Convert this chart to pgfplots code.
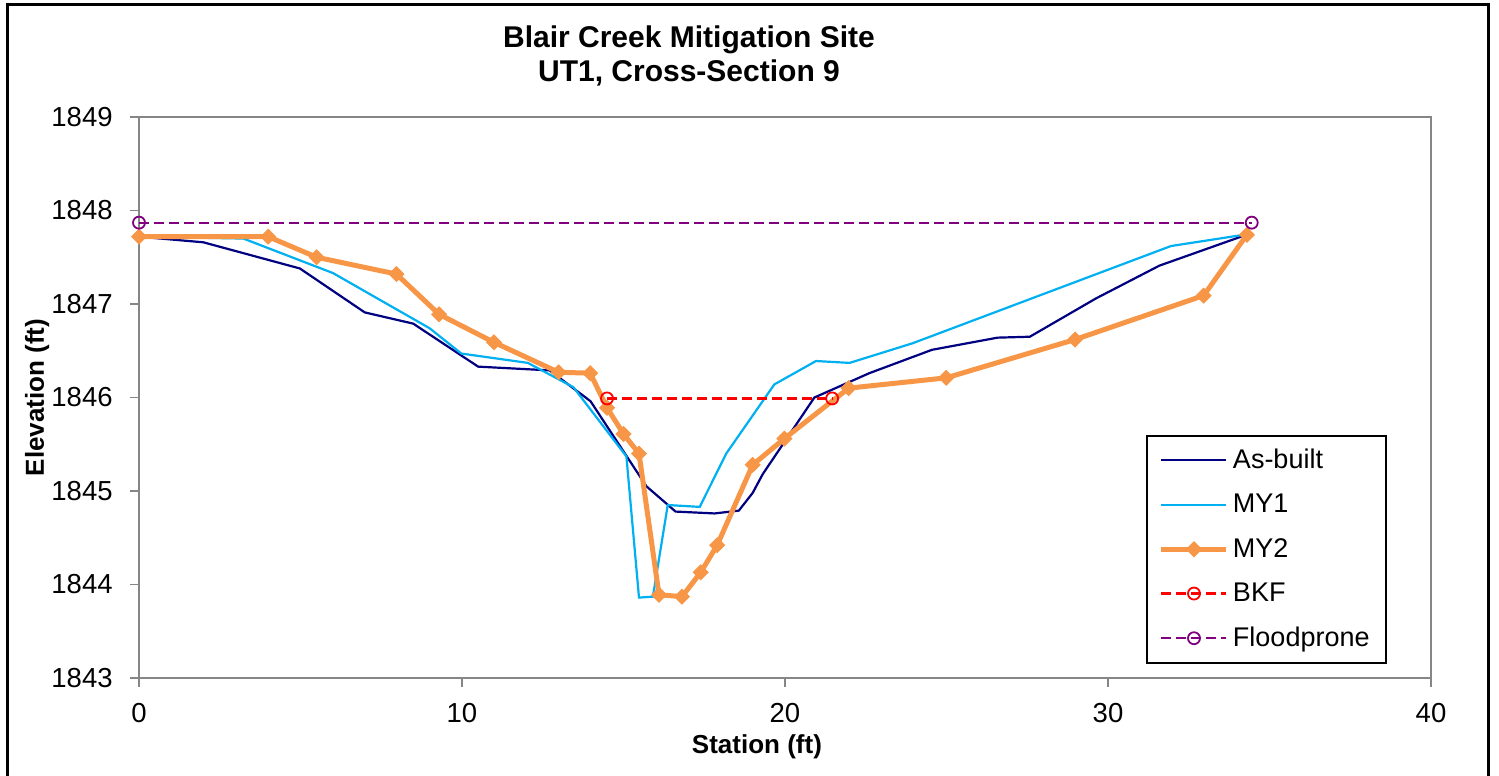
\documentclass[border=0pt]{standalone}
\usepackage{fontspec}
\setmainfont{Liberation Sans}
\usepackage{pgfplots}
\pgfplotsset{compat=1.18}
\definecolor{asbuilt}{HTML}{000080}
\definecolor{myone}{HTML}{00B0F0}
\definecolor{mytwo}{HTML}{F79646}
\definecolor{bkf}{HTML}{FF0000}
\definecolor{fp}{HTML}{800080}
\definecolor{axgray}{HTML}{868686}
\begin{document}
\begin{tikzpicture}
\begin{axis}[
  scale only axis, width=646pt, height=280.5pt,
  xmin=0, xmax=40, ymin=1843, ymax=1849,
  xtick={0,10,20,30,40}, ytick={1843,1844,1845,1846,1847,1848,1849},
  clip=false,
  axis line style={draw=axgray, line width=0.7pt},
  tick style={draw=axgray, line width=0.7pt},
  tick align=outside, tick pos=left, major tick length=4.5pt,
  scaled ticks=false,
  /pgf/number format/1000 sep={},
  /pgf/number format/assume math mode=true,
  ticklabel style={font=\fontsize{13.75}{16}\selectfont},
  yticklabel style={anchor=east, inner sep=0pt, xshift=-8.5pt},
  xticklabel style={anchor=north, inner sep=0pt, yshift=-8pt},
  xlabel={\bfseries Station (ft)},
  ylabel={\bfseries Elevation (ft)},
  xlabel style={at={(axis description cs:0.4783,-0.123)}, anchor=center, font=\fontsize{13}{15}\selectfont},
  ylabel style={at={(axis description cs:-0.0789,0.5)}, anchor=center, font=\fontsize{13}{15}\selectfont},
  legend style={draw=black, line width=1pt, at={(0.7794,0.4332)}, anchor=north west,
    font=\fontsize{13.5}{16}\selectfont, inner xsep=6pt, inner ysep=4.5pt, row sep=7.3pt,
    cells={anchor=west}},
  legend cell align=left,
  legend image code/.code={\draw[mark repeat=2,mark phase=2] plot coordinates {(0pt,0pt) (16.25pt,0pt) (32.5pt,0pt)};},
]
\addplot[asbuilt, line width=1.1pt, mark=none] coordinates {
(0,1847.72) (1.99,1847.66) (4.98,1847.38) (6.99,1846.91) (8.49,1846.79) (10.50,1846.33) (12.71,1846.29) (13.98,1845.96) (15.71,1845.05) (16.38,1844.85) (16.61,1844.78) (17.82,1844.76) (18.57,1844.79) (19.0,1844.98) (19.31,1845.18) (20.91,1846.00) (22.61,1846.26) (24.55,1846.51) (26.58,1846.64) (27.58,1846.65) (29.63,1847.06) (31.59,1847.41) (34.2,1847.73)
};
\addlegendentry{As-built}
\addplot[myone, line width=1.1pt, mark=none] coordinates {
(0,1847.72) (3.23,1847.70) (6.01,1847.33) (9.0,1846.74) (9.98,1846.47) (12.04,1846.37) (13.45,1846.11) (15.09,1845.37) (15.48,1843.86) (15.91,1843.87) (16.37,1844.85) (17.36,1844.83) (18.18,1845.40) (19.67,1846.14) (20.96,1846.39) (22.0,1846.37) (23.95,1846.58) (31.95,1847.62) (34.2,1847.74)
};
\addlegendentry{MY1}
\addplot[mytwo, line width=2.5pt, mark=square*, mark size=2.6pt, mark options={rotate=45, line width=0.5pt}] coordinates {
(0,1847.72) (4.0,1847.72) (5.50,1847.50) (7.97,1847.32) (9.29,1846.89) (10.99,1846.59) (12.99,1846.27) (13.97,1846.26) (14.49,1845.89) (15.0,1845.61) (15.48,1845.40) (16.10,1843.89) (16.81,1843.87) (17.39,1844.13) (17.90,1844.42) (19.00,1845.28) (19.98,1845.56) (21.97,1846.10) (24.99,1846.21) (28.98,1846.62) (32.96,1847.09) (34.30,1847.74)
};
\addlegendentry{MY2}
\addplot[bkf, line width=1.1pt, dash pattern=on 5pt off 2.5pt, mark=o, mark size=3pt, mark options={solid, line width=0.9pt}] coordinates {
(14.49,1845.99) (21.46,1845.99)
};
\addlegendentry{BKF}
\addplot[fp, line width=1.1pt, dash pattern=on 5pt off 2.5pt, mark=o, mark size=3pt, mark options={solid, line width=0.9pt}] coordinates {
(0,1847.87) (34.45,1847.87)
};
\addlegendentry{Floodprone}
\node[anchor=base, font=\fontsize{15}{17}\bfseries] at (axis description cs:0.4257,1.1230) {Blair Creek Mitigation Site};
\node[anchor=base, font=\fontsize{15}{17}\bfseries] at (axis description cs:0.4257,1.0624) {UT1, Cross-Section 9};
\end{axis}
\draw[line width=1.5pt, black] (-65.5pt,-49pt) -- (-65.5pt,336.5pt) -- (674.5pt,336.5pt) -- (674.5pt,-49pt);
\pgfresetboundingbox
\useasboundingbox (-69.5pt,-49pt) rectangle (680pt,339pt);
\end{tikzpicture}
\end{document}
